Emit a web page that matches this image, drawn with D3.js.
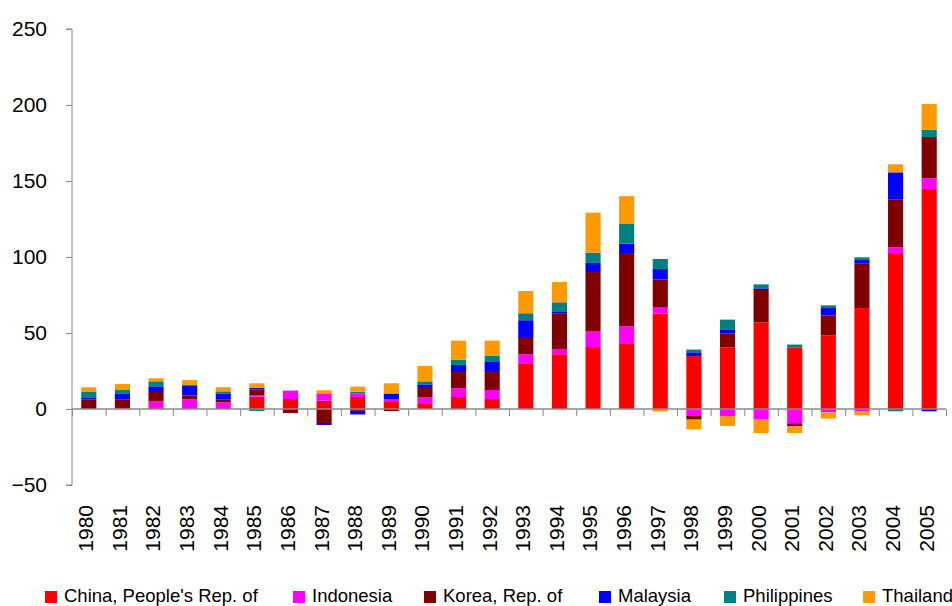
<!DOCTYPE html>
<html>
<head>
<meta charset="utf-8">
<script src="https://cdn.jsdelivr.net/npm/d3@7"></script>
<style>
  html, body { margin: 0; padding: 0; background: #fff; }
  svg { display: block; font-family: "Liberation Sans", Arial, sans-serif; }
</style>
</head>
<body>
<svg id="chart" width="952" height="606"></svg>
<script>
/* Data (US$ billions, approx.) */
const years = ["1980","1981","1982","1983","1984","1985","1986","1987","1988","1989","1990","1991","1992",
  "1993","1994","1995","1996","1997","1998","1999","2000","2001","2002","2003","2004","2005"]
const china = [0, 0, 0.7, 0, 0.7, 8.1, 6.6, 5.5, 7.9, 4.6, 3.3, 7.9, 6.6, 30.1, 36.0, 40.8, 42.8, 62.8, 34.9, 40.6, 57.0, 40.6, 48.5, 66.4, 102.6, 144.7]
const indonesia = [0, 0.7, 4.6, 6.4, 3.7, 1.1, 5.5, 4.8, 2.2, 2.0, 4.6, 5.7, 5.9, 5.9, 3.5, 10.5, 11.6, 3.9, -4.6, -4.6, -7.0, -9.4, -2.2, -1.3, 3.8, 7.1]
const korea = [6.4, 5.7, 5.9, 2.4, 2.0, 3.7, -2.6, -9.2, -1.2, -1.3, 6.6, 10.7, 11.8, 10.7, 23.5, 38.8, 48.2, 18.6, -2.4, 9.2, 21.3, -1.1, 13.1, 29.5, 31.6, 27.1]
const malaysia = [1.3, 3.5, 3.7, 6.3, 3.9, 1.1, 0, -1.3, -2.4, 3.3, 1.7, 4.7, 7.1, 11.7, 1.3, 6.0, 6.2, 6.8, 2.4, 2.6, 1.1, -0.9, 4.8, 2.1, 17.7, -1.5]
const philippines = [3.5, 2.6, 3.3, 1.0, 1.3, -1.3, 0, 0, 1.3, 0.4, 2.0, 3.5, 3.5, 4.6, 5.9, 6.8, 12.9, 6.6, 1.8, 6.4, 2.6, 1.8, 1.8, 1.8, -1.5, 4.9]
const thailand = [3.1, 3.9, 2.0, 2.9, 2.7, 2.9, 0, 2.0, 3.3, 6.6, 10.1, 12.5, 10.1, 14.6, 13.4, 26.3, 18.3, -1.7, -6.4, -6.6, -8.8, -4.4, -4.1, -2.8, 5.3, 16.9]

const seriesNames = ["China, People's Rep. of", "Indonesia", "Korea, Rep. of", "Malaysia", "Philippines", "Thailand"]
const seriesValues = [china, indonesia, korea, malaysia, philippines, thailand]
const seriesColors = ["#ff0000", "#ff00ff", "#800000", "#0000ff", "#008080", "#ff9900"]
const yTicks = [-50, 0, 50, 100, 150, 200, 250]

/* Layout */
const width = 952
const height = 606
const plotLeft = 72
const plotRight = 946
const plotTop = 29
const plotBottom = 485
const axisColor = "#8a8a8a"
const legendX = [45, 293, 424, 599, 724, 863]
const legendY = 591

const svg = d3.select("#chart")
  .attr("viewBox", [0, 0, width, height])

/* table rows for the stack */
const rows = years.map((yr, i) => {
  const row = { year: yr }
  seriesNames.forEach((n, k) => { row[n] = seriesValues[k][i] })
  return row
})

const stacked = d3.stack()
  .keys(seriesNames)
  .offset(d3.stackOffsetDiverging)(rows)

/* scales */
const x = d3.scaleBand(years, [plotLeft, plotRight]).padding(0)
const xEdge = d3.scaleLinear([0, years.length], [plotLeft, plotRight])
const y = d3.scaleLinear([-50, 250], [plotBottom, plotTop])
const z = d3.scaleOrdinal(seriesNames, seriesColors)
const barWidth = x.bandwidth() * 0.45

/* bars */
svg.append("g")
  .selectAll("g")
  .data(stacked)
  .join("g")
  .attr("fill", d => z(d.key))
  .selectAll("rect")
  .data(d => d)
  .join("rect")
  .attr("x", d => x(d.data.year) + (x.bandwidth() - barWidth) / 2)
  .attr("width", barWidth)
  .attr("y", d => y(Math.max(d[0], d[1])))
  .attr("height", d => Math.abs(y(d[0]) - y(d[1])))

/* y axis */
svg.append("g")
  .attr("transform", `translate(${plotLeft},0)`)
  .call(d3.axisLeft(y).tickValues(yTicks).tickSize(6).tickPadding(19).tickFormat(d3.format("d")))
  .call(g => g.select(".domain").attr("stroke", axisColor).attr("d", `M-6,${plotTop}H0V${plotBottom}H-6`))
  .call(g => g.selectAll(".tick line").attr("stroke", axisColor))
  .call(g => g.selectAll(".tick text")
    .attr("fill", "#000")
    .attr("font-size", 21)
    .attr("font-family", "Liberation Sans, Arial, sans-serif"))

/* x axis along zero, ticks between categories */
svg.append("g")
  .attr("transform", `translate(0,${y(0)})`)
  .call(d3.axisBottom(xEdge).tickValues(d3.range(years.length + 1)).tickSize(7).tickFormat(""))
  .call(g => g.select(".domain").attr("stroke", axisColor).attr("stroke-width", 1.5).attr("d", `M${plotLeft},0H${plotRight}`))
  .call(g => g.selectAll(".tick line").attr("stroke", axisColor))

/* year labels, rotated */
svg.append("g")
  .selectAll("text")
  .data(years)
  .join("text")
  .attr("transform", d => `translate(${x(d) + x.bandwidth() / 2},505) rotate(-90)`)
  .attr("text-anchor", "end")
  .attr("dy", "0.21em")
  .attr("font-size", 21)
  .attr("fill", "#000")
  .text(d => d)

/* legend */
const legend = svg.append("g")
  .selectAll("g")
  .data(seriesNames)
  .join("g")
  .attr("transform", (d, i) => `translate(${legendX[i]},${legendY})`)

legend.append("rect")
  .attr("width", 12)
  .attr("height", 12)
  .attr("fill", z)

legend.append("text")
  .attr("x", 19)
  .attr("y", 11)
  .attr("font-size", 18.5)
  .attr("fill", "#000")
  .text(d => d)
</script>
</body>
</html>
